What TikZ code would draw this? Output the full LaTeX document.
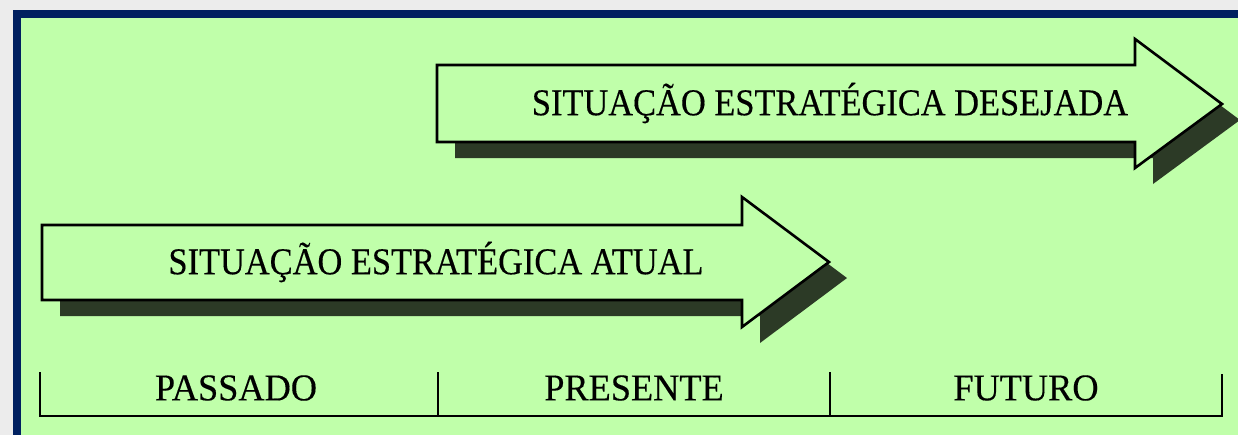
\documentclass[tikz,border=0pt]{standalone}
\usepackage{fontspec}
\setmainfont{Liberation Serif}
\newfontfamily\narrowserif[FakeStretch=0.91,FakeBold=0.3]{Liberation Serif}
\newfontfamily\periodserif[FakeStretch=0.96,FakeBold=0.3]{Liberation Serif}
\usepackage{tikz}
\usetikzlibrary{arrows.meta,positioning}
\definecolor{pagegray}{RGB}{236,236,236}
\definecolor{framenavy}{RGB}{0,32,96}
\definecolor{panelgreen}{RGB}{192,255,170}
\definecolor{shadowdark}{RGB}{44,58,38}
\tikzset{
  arrowbody/.style={
    draw=black,
    fill=panelgreen,
    line width=1.3pt,
    line join=miter
  },
  arrowshadow/.style={
    fill=shadowdark,
    draw=none
  },
  arrowlabel/.style={
    font=\narrowserif\fontsize{18.9}{20}\selectfont,
    inner sep=0pt,
    anchor=center
  },
  periodlabel/.style={
    font=\periodserif\fontsize{18.9}{20}\selectfont,
    inner sep=0pt,
    anchor=center
  },
  timeline/.style={
    draw=black,
    line width=1.4pt
  }
}

\begin{document}
\begin{tikzpicture}[x=0.5pt,y=-0.5pt]
  \useasboundingbox (0,0) rectangle (1238,435);
  % frame and panel
  \fill[pagegray] (0,0) rectangle (1238,435);
  \fill[framenavy] (13,10) rectangle (1238,435);
  \fill[panelgreen] (21,18) rectangle (1238,435);
  % desired situation arrow
  \fill[arrowshadow, shift={(18,16)}] (437,65) -- (1135,65) -- (1135,39) -- (1222,104)
    -- (1135,168) -- (1135,142) -- (437,142) -- cycle;
  \draw[arrowbody] (437,65) -- (1135,65) -- (1135,39) -- (1222,104)
    -- (1135,168) -- (1135,142) -- (437,142) -- cycle;
  \node[arrowlabel] (desired) at (830,103) {SITUAÇÃO ESTRATÉGICA DESEJADA};
  % current situation arrow
  \fill[arrowshadow, shift={(18,16)}] (42,225) -- (742,225) -- (742,197) -- (829,262)
    -- (742,327) -- (742,300) -- (42,300) -- cycle;
  \draw[arrowbody] (42,225) -- (742,225) -- (742,197) -- (829,262)
    -- (742,327) -- (742,300) -- (42,300) -- cycle;
  \node[arrowlabel] (current) at (436,262) {SITUAÇÃO ESTRATÉGICA ATUAL};
  % time axis
  \draw[timeline] (40,372) -- (40,416) -- (1222,416) -- (1222,374);
  \draw[timeline] (438,372) -- (438,416);
  \draw[timeline] (830,372) -- (830,416);
  \node[periodlabel] (past) at (236,388) {PASSADO};
  \node[periodlabel] (present) at (634,388) {PRESENTE};
  \node[periodlabel] (future) at (1026,388) {FUTURO};
\end{tikzpicture}
\end{document}
